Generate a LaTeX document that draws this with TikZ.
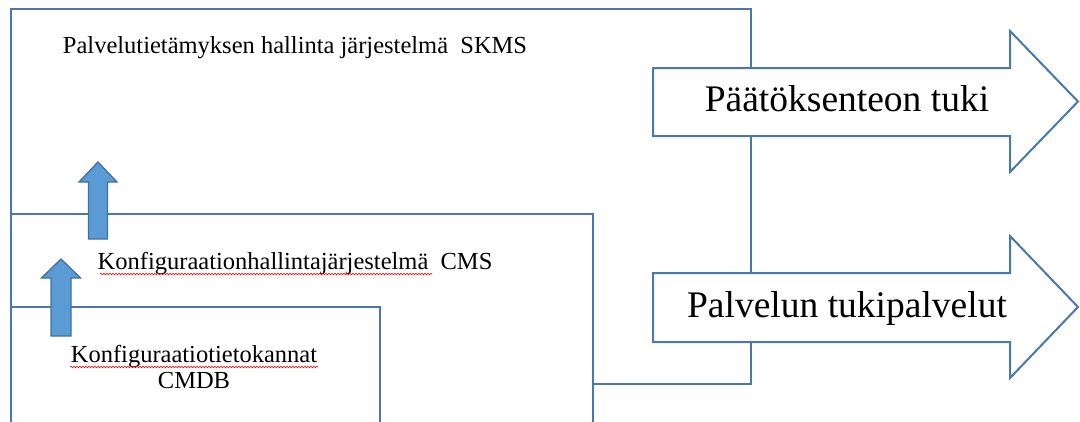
\documentclass[tikz,border=0pt]{standalone}
\usepackage{fontspec}
\setmainfont{Liberation Serif}
\usetikzlibrary{decorations.pathmorphing}
\definecolor{frameblue}{HTML}{4A78AA}
\definecolor{arrowfill}{HTML}{5B9BD5}
\definecolor{arrowline}{HTML}{41719C}
\tikzset{
  frame/.style={draw=frameblue, line width=2pt, fill=white},
  bigarrow/.style={draw=frameblue, line width=2pt, fill=white, line join=miter},
  uparrow/.style={draw=arrowline, line width=1.3pt, fill=arrowfill, line join=miter},
  smalltxt/.style={font=\fontsize{24.5}{28}\selectfont, inner sep=0pt, anchor=base},
  bigtxt/.style={font=\fontsize{37.5}{42}\selectfont, inner sep=0pt, anchor=base},
  spell/.style={draw=red, line width=0.6pt, decorate, decoration={snake, amplitude=0.8pt, segment length=3pt}}
}
\begin{document}
\begin{tikzpicture}[x=1pt,y=-1pt]
\useasboundingbox (0,0) rectangle (1080,421);
\clip (0,0) rectangle (1080,421);
% SKMS outer box
\draw[frame] (11,9) rectangle (751,384);
% right arrows
\draw[bigarrow] (653,68) -- (1010,68) -- (1010,31) -- (1078,101.5) -- (1010,172) -- (1010,136) -- (653,136) -- cycle;
\draw[bigarrow] (653,273) -- (1010,273) -- (1010,236) -- (1078,307) -- (1010,378) -- (1010,342) -- (653,342) -- cycle;
\node[bigtxt] (tuki) at (847,111) {Päätöksenteon tuki};
\node[bigtxt] (tukip) at (847,317) {Palvelun tukipalvelut};
% CMS box
\draw[frame] (11,214) rectangle (593,440);
% CMDB box
\draw[frame] (11,307) rectangle (380,440);
% texts
\node[smalltxt] (skms) at (295,53) {Palvelutietämyksen hallinta järjestelmä\enspace SKMS};
\node[smalltxt] (cms) at (295,269) {Konfiguraationhallintajärjestelmä\enspace CMS};
\node[smalltxt] (cmdb) at (194,362) {Konfiguraatiotietokannat};
\node[smalltxt] (cmdb2) at (194,388) {CMDB};
% spell-check underlines
\coordinate (s1a) at (100,274);
\coordinate (s1b) at (432,274);
\coordinate (s2a) at (70,367);
\coordinate (s2b) at (318,367);
\draw[spell] (s1a) -- (s1b);
\draw[spell] (s2a) -- (s2b);
% up arrows
\draw[uparrow] (88.5,239) -- (88.5,182) -- (79,182) -- (98,162) -- (117,182) -- (107.5,182) -- (107.5,239) -- cycle;
\draw[uparrow] (51,336) -- (51,278) -- (41.5,278) -- (61,259) -- (80.5,278) -- (71,278) -- (71,336) -- cycle;
\end{tikzpicture}
\end{document}
